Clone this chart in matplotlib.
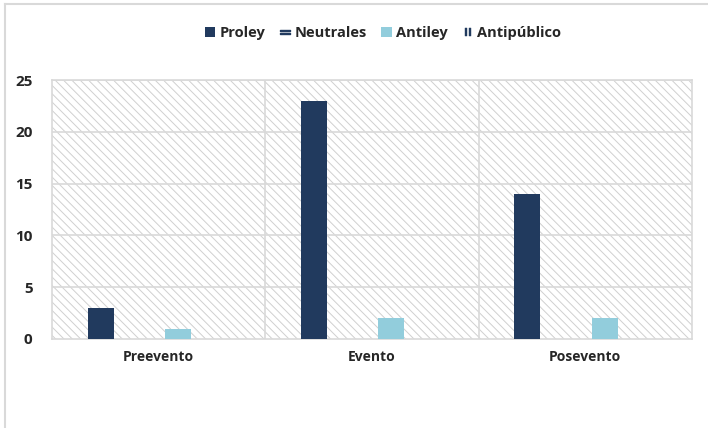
import numpy as np
import matplotlib.pyplot as plt
from matplotlib.patches import Rectangle, Patch
from matplotlib.lines import Line2D

categorias = ["Preevento", "Evento", "Posevento"]
series = ["Proley", "Neutrales", "Antiley", "Antipúblico"]
proley = [3, 23, 14]
neutrales = [0, 0, 0]
antiley = [1, 2, 2]
antipublico = [0, 0, 0]

colores = ["#213A5E", "#213A5E", "#92CDDC", "#213A5E"]
gris = "#D9D9D9"

plt.rcParams['font.family'] = ['Open Sans', 'DejaVu Sans']
plt.rcParams['hatch.linewidth'] = 0.7
plt.rcParams['hatch.color'] = "#D0D0D0"

fig = plt.figure(figsize=(7.08, 4.28), dpi=100)
ax = fig.add_axes([52/708, 89/428, 640/708, 259/428])

# fondo rayado
ax.add_patch(Rectangle((0, 0), 1, 1, transform=ax.transAxes, facecolor="white",
                       edgecolor="#D0D0D0", hatch="\\" * 4, lw=0, zorder=0))

x = np.arange(len(categorias))
slot = 0.181
ancho = 0.122
valores = [proley, neutrales, antiley, antipublico]
for i, (nombre, v) in enumerate(zip(series, valores)):
    ax.bar(x + (i - 1.5) * slot, v, ancho, color=colores[i], zorder=3, label=nombre)

ax.set_xlim(-0.5, 2.5)
ax.set_ylim(0, 25)
ax.set_yticks([0, 5, 10, 15, 20, 25])
ax.set_xticks(x)
ax.set_xticklabels(categorias, fontsize=10, fontweight="bold", color="#262626")
ax.tick_params(axis="y", labelsize=11, length=0, pad=14, labelcolor="#262626")
ax.tick_params(axis="x", length=0, pad=8)
for lbl in ax.get_yticklabels():
    lbl.set_fontweight("bold")

for yv in [5, 10, 15, 20, 25]:
    ax.axhline(yv, color=gris, lw=1.2, zorder=1)
for xv in [0.5, 1.5]:
    ax.axvline(xv, color=gris, lw=1.2, zorder=1)
for s in ax.spines.values():
    s.set_color(gris)
    s.set_linewidth(1.2)

handles = [
    Patch(facecolor="#213A5E"),
    Line2D([], [], marker="$=$", color="#213A5E", ls="", markersize=7),
    Patch(facecolor="#92CDDC"),
    Line2D([], [], marker="$\\|\\|$", color="#213A5E", ls="", markersize=6,
           markeredgewidth=0.3),
]
fig.legend(handles, series, loc="center", bbox_to_anchor=(383/708, 1 - 33/428),
           ncol=4, frameon=False, handlelength=0.7, handleheight=0.7,
           handletextpad=0.3, columnspacing=1.0, labelcolor="#262626",
           prop={"size": 10.5, "weight": "bold"})

# marco exterior (arriba e izquierda)
fig.add_artist(Line2D([5/708, 1], [1 - 4/428, 1 - 4/428], color=gris, lw=1.5,
                      transform=fig.transFigure))
fig.add_artist(Line2D([5/708, 5/708], [0, 1 - 4/428], color=gris, lw=1.5,
                      transform=fig.transFigure))

fig.savefig("out.png", dpi=100)
